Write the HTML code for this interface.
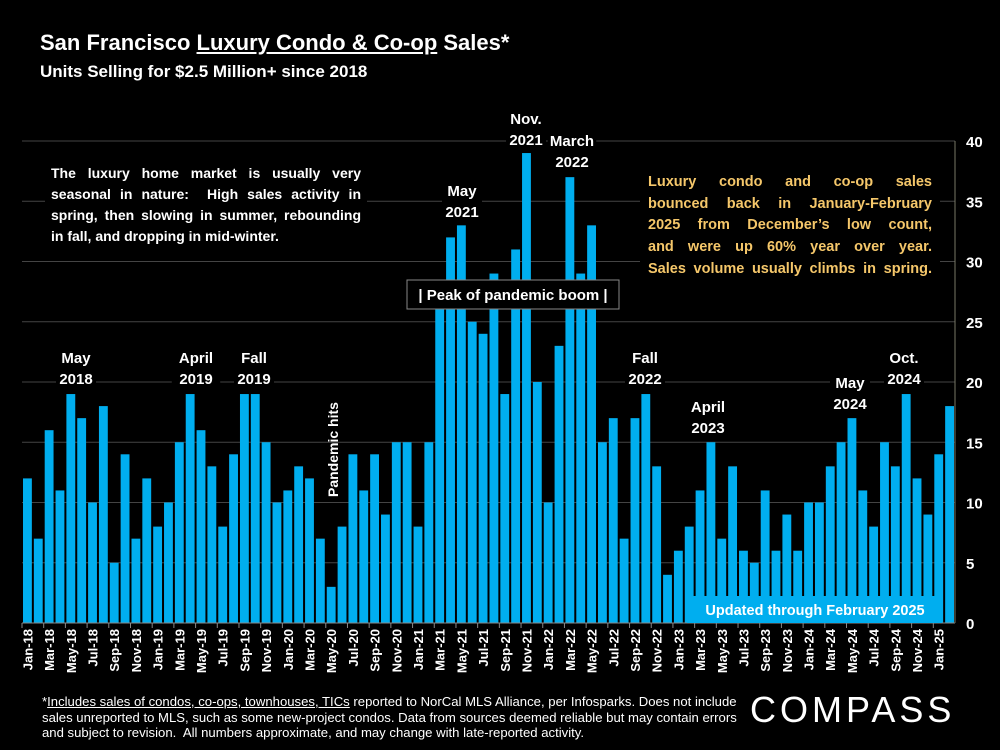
<!DOCTYPE html>
<html><head><meta charset="utf-8"><style>
html,body{margin:0;padding:0;background:#000;}
body{width:1000px;height:750px;overflow:hidden;position:relative;font-family:"Liberation Sans",sans-serif;color:#fff;}
.t1{position:absolute;left:40px;top:30px;font-size:22px;font-weight:bold;}
.t2{position:absolute;left:40px;top:62px;font-size:17px;font-weight:bold;}
.foot{position:absolute;left:42px;top:694px;font-size:13px;line-height:15.5px;white-space:nowrap;transform:scaleX(1.01);transform-origin:left top;}
.logo{position:absolute;left:750px;top:689px;font-size:36px;letter-spacing:4px;font-weight:normal;}
.jl{text-align:justify;text-align-last:justify;white-space:nowrap;}
</style></head><body>
<div class="t1">San Francisco <u>Luxury Condo &amp; Co-op</u> Sales*</div>
<div class="t2">Units Selling for $2.5 Million+ since 2018</div>
<svg id="chart" width="1000" height="750" style="position:absolute;left:0;top:0"></svg>
<div class="foot">*<u>Includes sales of condos, co-ops, townhouses, TICs</u> reported to NorCal MLS Alliance, per Infosparks. Does not include<br>sales unreported to MLS, such as some new-project condos. Data from sources deemed reliable but may contain errors<br>and subject to revision.&nbsp; All numbers approximate, and may change with late-reported activity.</div>
<div class="logo">COMPASS</div>
<script>
const months=["Jan","Feb","Mar","Apr","May","Jun","Jul","Aug","Sep","Oct","Nov","Dec"];
const years=["18","19","20","21","22","23","24","25"];
const values=[12,7,16,11,19,17,10,18,5,14,7,12,
8,10,15,19,16,13,8,14,19,19,15,10,
11,13,12,7,3,8,14,11,14,9,15,15,
8,15,27,32,33,25,24,29,19,31,39,20,
10,23,37,29,33,15,17,7,17,19,13,4,
6,8,11,15,7,13,6,5,11,6,9,6,
10,10,13,15,17,11,8,15,13,19,12,9,
14,18];
const yTicks=[0,5,10,15,20,25,30,35,40];
const categories=values.map((v,i)=>months[i%12]+"-"+years[Math.floor(i/12)]);
const NS="http://www.w3.org/2000/svg";
const svg=document.getElementById('chart');
const x0=22,x1=955,y0=623,y1=141,yMax=40;
const bw=(x1-x0)/values.length;
const X=i=>x0+i*bw;
const Y=v=>y0-(v/yMax)*(y0-y1);
function mk(t,a){const e=document.createElementNS(NS,t);for(const k in a)e.setAttribute(k,a[k]);svg.appendChild(e);return e;}
yTicks.forEach(t=>{
 if(t>0){const g=mk('line',{x1:x0,x2:x1,y1:Y(t),y2:Y(t),stroke:'#444','stroke-width':1});
 
 }
 const tx=mk('text',{x:966,y:Y(t)+6,fill:'#fff','font-size':15,'font-weight':'bold','font-family':'Liberation Sans'});
 tx.textContent=t;
 
 
});
values.forEach((v,i)=>{
 const r=mk('rect',{x:X(i)+1,y:Y(v),width:bw-2,height:y0-Y(v),fill:'#00aeef'});
 
 
});
const ax=mk('line',{x1:x0,x2:x1,y1:y0,y2:y0,stroke:'#888','stroke-width':1});


const ay=mk('line',{x1:x1,x2:x1,y1:y1,y2:y0,stroke:'#776','stroke-width':1});


categories.forEach((c,i)=>{
 if(i%2==0){
 const tk=mk('line',{x1:X(i),x2:X(i),y1:y0,y2:y0+5,stroke:'#888'});
 
 
 const cx=X(i)+bw/2+5;
 const t=mk('text',{x:cx,y:629,fill:'#fff','font-size':13,'font-weight':'bold','text-anchor':'end',transform:`rotate(-90 ${cx} 629)`,'font-family':'Liberation Sans'});
 t.textContent=c;
 
 
 }
});
function ann(lines,cx,top,name){
 const w=Math.max(...lines.map(l=>l.length))*8.5+6;
 const bg=mk('rect',{x:cx-w/2,y:top-2,width:w,height:lines.length*21+4,fill:'#000'});
 
 
 lines.forEach((l,k)=>{const t=mk('text',{x:cx,y:top+16+k*21,fill:'#fff','font-size':15,'font-weight':'bold','text-anchor':'middle','font-family':'Liberation Sans'});t.textContent=l;
 
 });
}
ann(["May","2018"],76,347,'annotation-may-2018');
ann(["April","2019"],196,347,'annotation-april-2019');
ann(["Fall","2019"],254,347,'annotation-fall-2019');
ann(["May","2021"],462,180,'annotation-may-2021');
ann(["Nov.","2021"],526,108,'annotation-nov-2021');
ann(["March","2022"],572,130,'annotation-march-2022');
ann(["Fall","2022"],645,347,'annotation-fall-2022');
ann(["April","2023"],708,396,'annotation-april-2023');
ann(["May","2024"],850,372,'annotation-may-2024');
ann(["Oct.","2024"],904,347,'annotation-oct-2024');
const ph=mk('text',{x:338,y:497,fill:'#fff','font-size':14,'font-weight':'bold',transform:'rotate(-90 338 497)','font-family':'Liberation Sans'});
ph.textContent='Pandemic hits';


const pb=mk('rect',{x:407,y:280,width:212,height:29,fill:'#000',stroke:'#888'});


const pt=mk('text',{x:513,y:300,fill:'#fff','font-size':15,'font-weight':'bold','text-anchor':'middle','font-family':'Liberation Sans'});
pt.textContent='| Peak of pandemic boom |';


const lb=mk('rect',{x:45,y:160,width:322,height:88,fill:'#000'});


const fo=document.createElementNS(NS,'foreignObject');
fo.setAttribute('x',51);fo.setAttribute('y',163);fo.setAttribute('width',310);fo.setAttribute('height',90);
fo.innerHTML='<div xmlns="http://www.w3.org/1999/xhtml" style="font-size:14px;font-weight:bold;line-height:21px;color:#fff;font-family:Liberation Sans,sans-serif"><div class="jl">The luxury home market is usually very</div><div class="jl">seasonal in nature:&#160; High sales activity in</div><div class="jl">spring, then slowing in summer, rebounding</div><div>in fall, and dropping in mid-winter.</div></div>';


svg.appendChild(fo);
const rb=mk('rect',{x:640,y:168,width:300,height:115,fill:'#000'});


const fo2=document.createElementNS(NS,'foreignObject');
fo2.setAttribute('x',648);fo2.setAttribute('y',172);fo2.setAttribute('width',284);fo2.setAttribute('height',115);
fo2.innerHTML='<div xmlns="http://www.w3.org/1999/xhtml" style="font-size:14.5px;font-weight:bold;line-height:21.7px;color:#f5c76a;font-family:Liberation Sans,sans-serif"><div class="jl">Luxury condo and co-op sales</div><div class="jl">bounced back in January-February</div><div class="jl">2025 from December’s low count,</div><div class="jl">and were up 60% year over year.</div><div class="jl">Sales volume usually climbs in spring.</div></div>';


svg.appendChild(fo2);
const ub=mk('rect',{x:687,y:596,width:255,height:27,fill:'#00aeef'});


const ut=mk('text',{x:815,y:615,fill:'#fff','font-size':14.5,'font-weight':'bold','text-anchor':'middle','font-family':'Liberation Sans'});
ut.textContent='Updated through February 2025';


</script>
</body></html>
